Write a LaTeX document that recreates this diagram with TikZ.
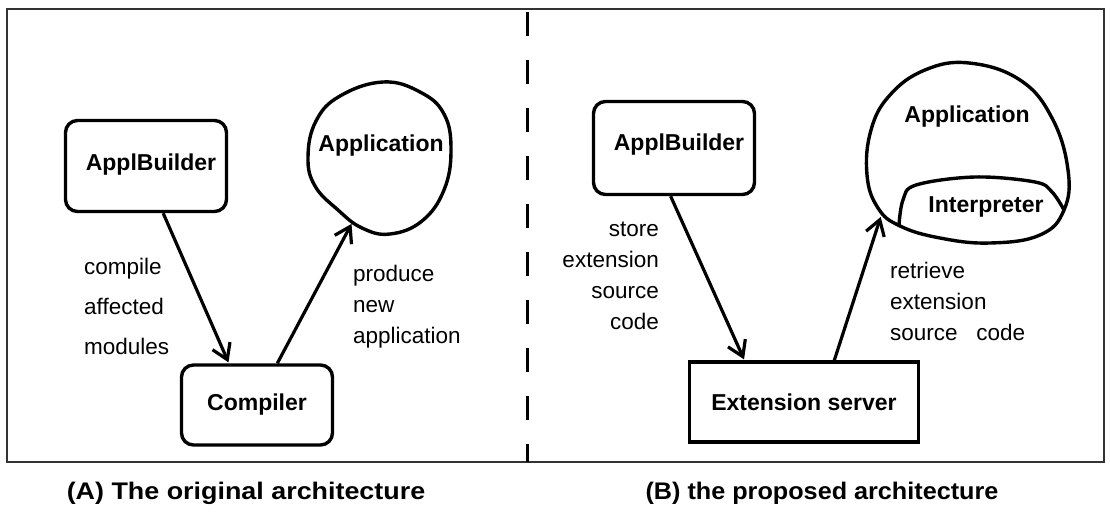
\documentclass[tikz,border=0pt]{standalone}
\usepackage{fontspec}
\setmainfont{Liberation Sans}
\usetikzlibrary{arrows.meta,calc}

\tikzset{
  box/.style={draw, line width=3.4pt, rounded corners=12pt, inner sep=0pt,
    font=\fontsize{23}{27}\selectfont\bfseries},
  sqbox/.style={draw, line width=3.4pt, inner sep=0pt,
    font=\fontsize{23}{27}\selectfont\bfseries},
  title/.style={inner sep=0pt, font=\fontsize{23}{27}\selectfont\bfseries},
  blob/.style={line width=3.4pt},
  flow/.style={line width=3.2pt, -{Straight Barb[length=15pt,width=19pt,line width=3.2pt]}, shorten >=1pt},
  lbl/.style={inner sep=0pt, font=\fontsize{22.5}{31}\selectfont},
  caption/.style={inner sep=0pt, font=\fontsize{24}{28}\selectfont\bfseries},
  frame/.style={line width=1.6pt, draw=black!80},
  divider/.style={line width=3pt, dash pattern=on 24pt off 24pt}
}

\begin{document}
\begin{tikzpicture}[x=1pt,y=-1pt]
\useasboundingbox (0,0) rectangle (1110,516);

% outer frame and divider
\draw[frame] (7,9) rectangle (1104,462);
\draw[divider] (527,12) -- (527,462);

% ---------- (A) original architecture ----------
\node[box, minimum width=161pt, minimum height=91pt] (ab1) at (146,166) {};
\node[title] (ab1t) at (151,165) {ApplBuilder};
\node[box, minimum width=151pt, minimum height=80pt] (comp) at (257,405) {Compiler};

\draw[blob] plot[smooth cycle, tension=0.7] coordinates {
  (383,82) (420,92) (444,114) (451,150) (444,190) (422,221) (390,234)
  (362,228) (338,210) (315,186) (308,157) (316,121) (340,96)};
\node[title] (app1) at (381,146) {Application};
\coordinate (app1in) at (352,223);

\draw[flow] (ab1.-70) -- (comp.124);
\draw[flow] (comp.64) -- (app1in);

% multi-line labels are placed by the baseline of their last line
\node[lbl, anchor=base west, align=left, font=\fontsize{22.5}{40}\selectfont]
  (lab1) at (84,354) {compile\\affected\\modules};
\node[lbl, anchor=base west, align=left] (lab2) at (353,343)
  {produce\\new\\application};

% ---------- (B) proposed architecture ----------
\node[box, minimum width=161pt, minimum height=93pt] (ab2) at (674,148) {};
\node[title] (ab2t) at (679,145) {ApplBuilder};
\node[sqbox, minimum width=229pt, minimum height=80pt] (es) at (804,402)
  {Extension server};

\draw[blob] plot[smooth cycle, tension=0.7] coordinates {
  (969,63) (1020,80) (1052,118) (1068,170) (1064,210) (1040,235) (990,243)
  (940,238) (900,226) (878,208) (867,175) (871,130) (890,95) (925,70)};
\draw[blob] plot[smooth, tension=0.6] coordinates {
  (899,225) (903,200) (916,185) (975,177) (1035,182) (1052,192) (1064,210)};
\node[title] (app2) at (967,117) {Application};
\node[title] (interp) at (986,207) {Interpreter};
\coordinate (app2in) at (881,216);

\draw[flow] (ab2.-94) -- (es.145);
\draw[flow] (es.54) -- (app2in);

\node[lbl, anchor=base east, align=right] (lab3) at (659,329)
  {store\\extension\\source\\code};
\node[lbl, anchor=base west, align=left] (lab4) at (890,340)
  {retrieve\\extension\\source\ \ \ code};

% captions
\node[caption, xscale=1.12] (capA) at (246,493) {(A) The original architecture};
\node[caption, xscale=1.05] (capB) at (822,493) {(B) the proposed architecture};
\end{tikzpicture}
\end{document}
